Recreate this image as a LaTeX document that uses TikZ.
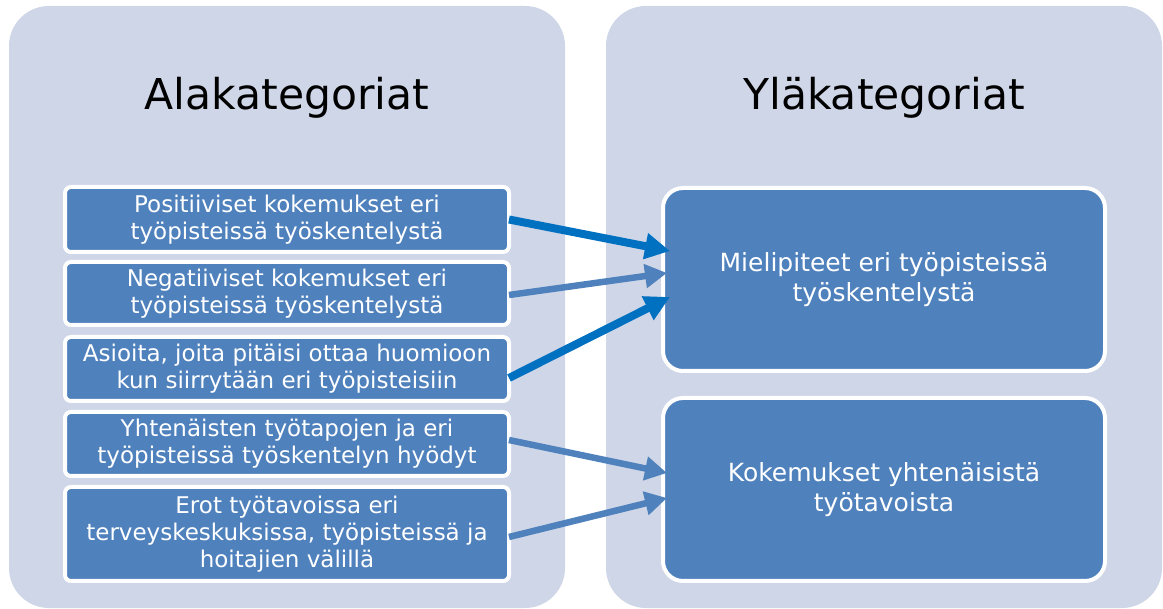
\documentclass[tikz,border=0pt]{standalone}
\usepackage{fontspec}
\setmainfont{DejaVu Sans}
\usetikzlibrary{arrows.meta}
\definecolor{panel}{RGB}{207,214,231}
\definecolor{boxblue}{RGB}{79,129,189}
\definecolor{arrdark}{RGB}{0,112,192}
\begin{document}
\begin{tikzpicture}[x=1pt,y=-1pt,
  panelbox/.style={rectangle, fill=panel, draw=none, rounded corners=40pt,
    minimum width=556pt, minimum height=602pt, outer sep=0pt, inner sep=0pt},
  subbox/.style={rectangle, fill=boxblue, draw=white, line width=4pt,
    rounded corners=6pt, minimum width=444pt, outer sep=0pt, inner sep=0pt,
    text=white, align=center, font=\fontsize{23}{27}\selectfont},
  mainbox/.style={rectangle, fill=boxblue, draw=white, line width=4pt,
    rounded corners=20pt, minimum width=442pt, minimum height=183pt,
    outer sep=0pt, inner sep=0pt, text=white, align=center,
    font=\fontsize{25}{30}\selectfont},
  titletext/.style={font=\fontsize{42.5}{50}\selectfont, anchor=base, text=black},
  darkarrow/.style={draw=arrdark, line width=8pt, -{Triangle[length=25pt,width=25pt]}},
  lightarrow/.style={draw=boxblue, line width=6.5pt, -{Triangle[length=22pt,width=23pt]}}
]
\useasboundingbox (0,0) rectangle (1163,609);
\node[panelbox] (pl) at (287,307) {};
\node[panelbox] (pr) at (884,307) {};
\node[titletext] (tl) at (287,110) {Alakategoriat};
\node[titletext] (tr) at (884,110) {Yläkategoriat};

\node[subbox, minimum height=65pt] (b1) at (287,219.5) {Positiiviset kokemukset eri\\työpisteissä työskentelystä};
\node[subbox, minimum height=63pt] (b2) at (287,293.5) {Negatiiviset kokemukset eri\\työpisteissä työskentelystä};
\node[subbox, minimum height=64pt] (b3) at (287,369) {Asioita, joita pitäisi ottaa huomioon\\kun siirrytään eri työpisteisiin};
\node[subbox, minimum height=64pt] (b4) at (287,444) {Yhtenäisten työtapojen ja eri\\työpisteissä työskentelyn hyödyt};
\node[subbox, minimum height=94pt] (b5) at (287,534) {Erot työtavoissa eri\\terveyskeskuksissa, työpisteissä ja\\hoitajien välillä};

\node[mainbox] (mA) at (884,279.5) {Mielipiteet eri työpisteissä\\työskentelystä};
\node[mainbox] (mB) at (884,489.5) {Kokemukset yhtenäisistä\\työtavoista};

\draw[darkarrow] (b1.east) -- ([xshift=7pt,yshift=28.5pt]mA.west);
\draw[lightarrow] ([yshift=-1.5pt]b2.east) -- ([xshift=4pt,yshift=6.5pt]mA.west);
\draw[darkarrow] ([yshift=-9pt]b3.east) -- ([xshift=7pt,yshift=-17.5pt]mA.west);
\draw[lightarrow] ([yshift=4pt]b4.east) -- ([xshift=4pt,yshift=16.5pt]mB.west);
\draw[lightarrow] ([yshift=-3pt]b5.east) -- ([xshift=4pt,yshift=-8.5pt]mB.west);
\end{tikzpicture}
\end{document}
